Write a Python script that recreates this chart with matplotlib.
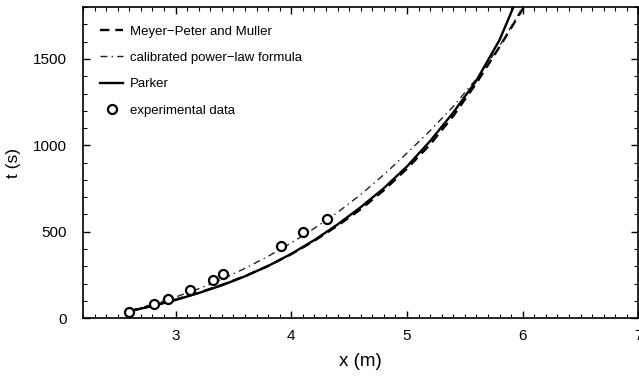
import numpy as np
import matplotlib
matplotlib.use("Agg")
import matplotlib.pyplot as plt
from matplotlib.ticker import MultipleLocator

plt.rcParams["font.family"] = ["Liberation Sans", "DejaVu Sans"]

# curves
x_mpm = [2.6, 2.8, 3.0, 3.2, 3.4, 3.6, 3.8, 4.0, 4.2, 4.4, 4.6, 4.8, 5.0, 5.2, 5.4, 5.6, 5.8, 6.01]
t_mpm = [40, 72, 107, 147, 192, 243, 302, 370, 448, 535, 630, 740, 865, 1005, 1170, 1360, 1570, 1800]

x_cal = [2.6, 2.8, 3.0, 3.2, 3.4, 3.6, 3.8, 4.0, 4.2, 4.4, 4.6, 4.8, 5.0, 5.2, 5.4, 5.6, 5.8, 6.0]
t_cal = [42, 80, 122, 170, 225, 288, 358, 435, 520, 612, 715, 830, 955, 1085, 1225, 1385, 1575, 1800]

x_parker = [2.6, 2.8, 3.0, 3.2, 3.4, 3.6, 3.8, 4.0, 4.2, 4.4, 4.6, 4.8, 5.0, 5.2, 5.4, 5.6, 5.8, 5.92]
t_parker = [40, 70, 105, 145, 190, 242, 302, 372, 452, 542, 642, 752, 878, 1025, 1190, 1375, 1610, 1800]

# experimental points
x_exp = [2.60, 2.81, 2.93, 3.12, 3.32, 3.41, 3.91, 4.10, 4.31]
t_exp = [38, 80, 108, 165, 218, 258, 415, 497, 573]

fig = plt.figure(figsize=(6.39, 3.76), dpi=100)
ax = fig.add_axes([0.130, 0.154, 0.869, 0.827])

ax.plot(x_mpm, t_mpm, color="black", lw=1.7, ls=(0, (4, 2.5)), label="Meyer\u2212Peter and Muller")
ax.plot(x_cal, t_cal, color="#222222", lw=1.0, ls=(0, (5, 3, 1, 3)), label="calibrated power\u2212law formula")
ax.plot(x_parker, t_parker, color="black", lw=1.7, ls="-", label="Parker")
ax.plot(x_exp, t_exp, ls="none", marker="o", ms=6.5, mfc="white", mec="black", mew=1.6,
        label="experimental data")

ax.set_xlim(2.2, 7)
ax.set_ylim(0, 1800)
ax.xaxis.set_major_locator(MultipleLocator(1))
ax.xaxis.set_minor_locator(MultipleLocator(0.1))
ax.yaxis.set_major_locator(MultipleLocator(500))
ax.yaxis.set_minor_locator(MultipleLocator(100))
ax.tick_params(which="both", direction="in", top=True, right=True, labelsize=11)
ax.tick_params(axis="y", which="major", pad=12)
ax.tick_params(axis="x", which="major", pad=8)
ax.tick_params(which="major", length=5, width=1)
ax.tick_params(which="minor", length=3, width=0.8)
for s in ax.spines.values():
    s.set_linewidth(1.2)

ax.set_xlabel("x (m)", fontsize=13.5, labelpad=7)
ax.set_ylabel("t (s)", fontsize=12.5, labelpad=8)

ax.legend(loc="upper left", frameon=False, fontsize=9.5, handlelength=1.75,
          labelspacing=1.07, borderaxespad=0, borderpad=0, handletextpad=0.5,
          numpoints=1, bbox_to_anchor=(0.031, 0.941))

fig.savefig("out.png", dpi=100)
